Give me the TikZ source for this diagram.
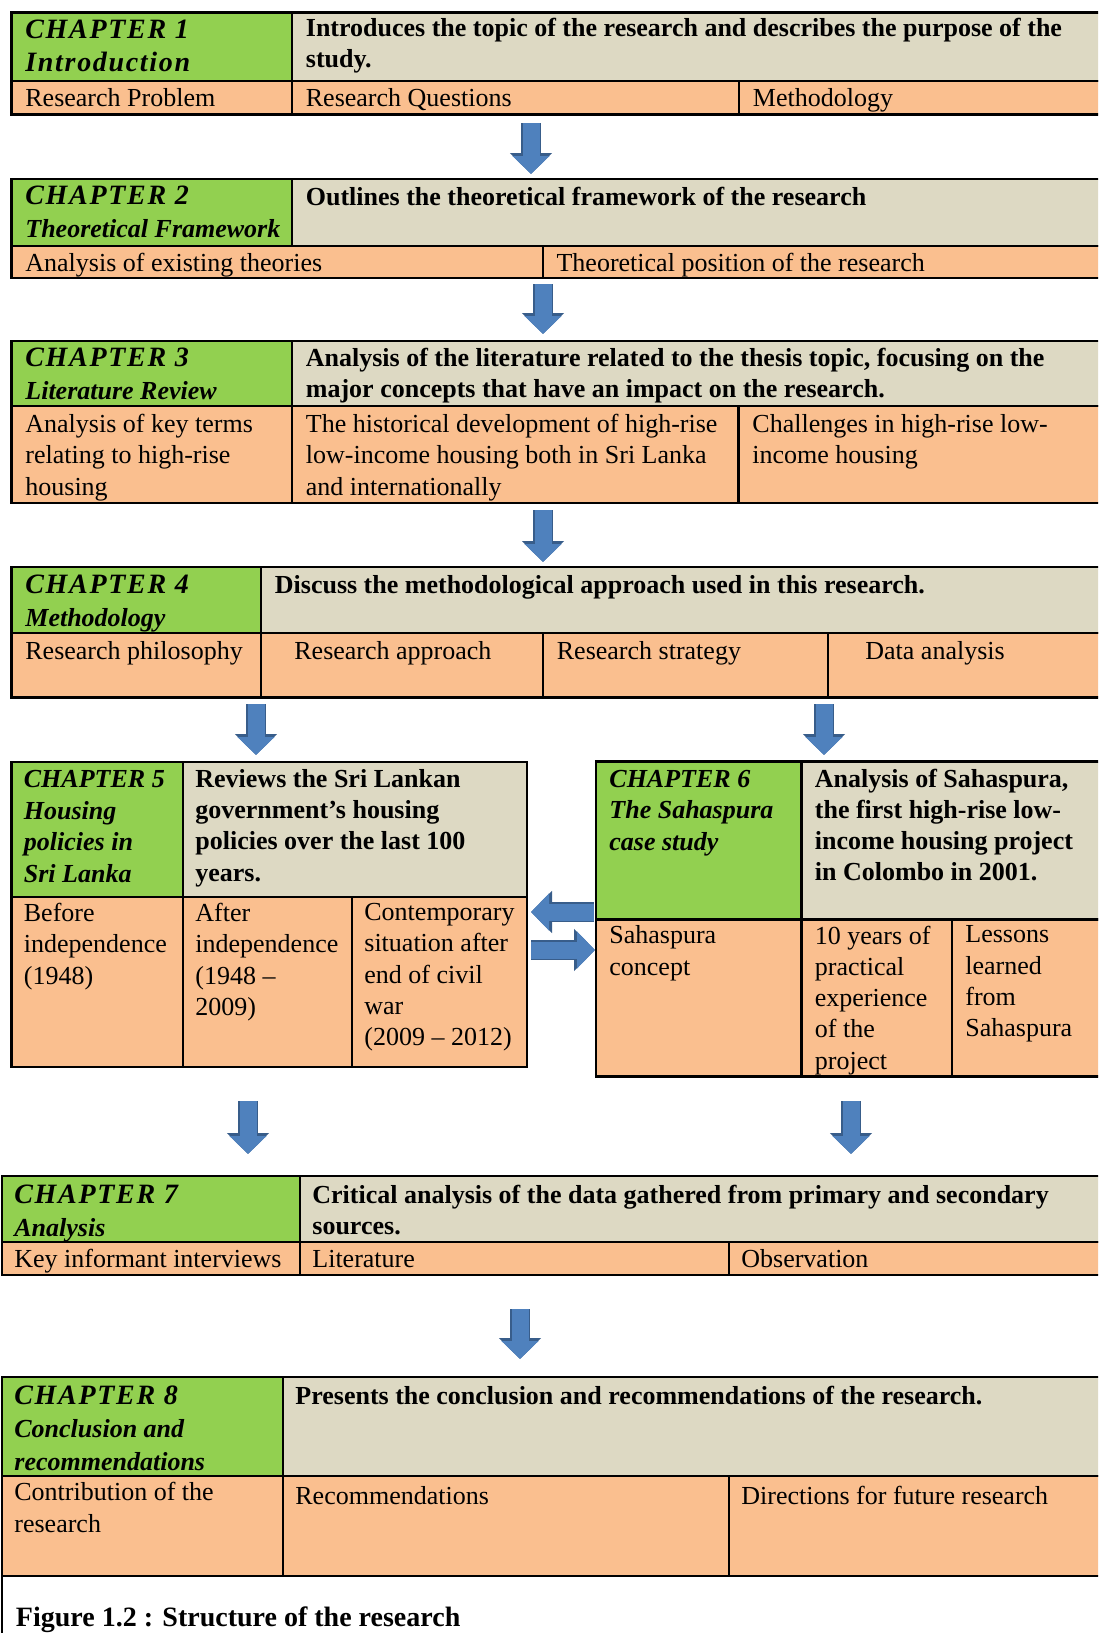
\documentclass[tikz,border=0pt]{standalone}
\usepackage{fontspec}
\setmainfont{Liberation Serif}
\newfontfamily\spacedserif[LetterSpace=6]{Liberation Serif}
\usetikzlibrary{positioning,arrows.meta}

\definecolor{chapgreen}{HTML}{92D050}
\definecolor{descgray}{HTML}{DDD9C3}
\definecolor{roworange}{HTML}{FABF8F}
\definecolor{arrowblue}{HTML}{4F81BD}
\definecolor{arrowedge}{HTML}{385D8A}

\newcommand{\bodysize}{\fontsize{13}{15.6}\selectfont}
\newcommand{\chapno}[1]{{\spacedserif\fontsize{14}{16.5}\selectfont #1}}

\begin{document}
\begin{tikzpicture}[x=1pt,y=-1pt,
  cell/.style ={draw, line width=1.1pt, inner sep=0pt, outer sep=0pt, anchor=north west},
  chapbox/.style ={cell, fill=chapgreen},
  descbox/.style ={cell, fill=descgray},
  itembox/.style ={cell, fill=roworange},
  celltext/.style ={inner sep=0pt, align=left, font=\bodysize, execute at begin node=\strut},
  chaptext/.style ={celltext, font=\fontsize{13}{16.5}\selectfont\bfseries\itshape},
  desctext/.style ={celltext, font=\bodysize\bfseries},
  blockarrow/.style ={draw=arrowblue, line width=8.5pt, -{Triangle[width=18pt,length=9pt]},
    preaction={draw=arrowedge, line width=10pt, -{Triangle[width=20.5pt,length=10.5pt]}}}]
 \useasboundingbox (0,0) rectangle (549,816.5);
 \clip (0,0) rectangle (549,816.5);

 % chapter 1
 \node[chapbox, minimum width=140.25pt, minimum height=34.25pt] (c1a) at (5.75,6.25) {};
 \node[descbox, minimum width=409pt, minimum height=34.25pt] (c1b) at (146,6.25) {};
 \node[itembox, minimum width=140.25pt, minimum height=16.75pt] (c1c) at (5.75,40.5) {};
 \node[itembox, minimum width=223.5pt, minimum height=16.75pt] (c1d) at (146,40.5) {};
 \node[itembox, minimum width=185.5pt, minimum height=16.75pt] (c1e) at (369.5,40.5) {};
 \node[chaptext, below right=3.5pt and 6.75pt of c1a.north west] (t1a) {\chapno{CHAPTER 1}\\\chapno{Introduction}};
 \node[desctext, below right=2.5pt and 6.75pt of c1b.north west] (t1b) {Introduces the topic of the research and describes the purpose of the\\study.};
 \node[celltext, below right=1.5pt and 6.75pt of c1c.north west] (t1c) {Research Problem};
 \node[celltext, below right=1.5pt and 6.75pt of c1d.north west] (t1d) {Research Questions};
 \node[celltext, below right=1.5pt and 6.75pt of c1e.north west] (t1e) {Methodology};

 % chapter 2
 \node[chapbox, minimum width=140.25pt, minimum height=33.5pt] (c2a) at (5.75,89.5) {};
 \node[descbox, minimum width=409pt, minimum height=33.5pt] (c2b) at (146,89.5) {};
 \node[itembox, minimum width=265.6pt, minimum height=16pt] (c2c) at (5.75,123) {};
 \node[itembox, minimum width=283.65pt, minimum height=16pt] (c2d) at (271.35,123) {};
 \node[chaptext, below right=3.5pt and 6.75pt of c2a.north west] (t2a) {\chapno{CHAPTER 2}\\Theoretical Framework};
 \node[desctext, below right=2pt and 6.75pt of c2b.north west] (t2b) {Outlines the theoretical framework of the research};
 \node[celltext, below right=1.5pt and 6.75pt of c2c.north west] (t2c) {Analysis of existing theories};
 \node[celltext, below right=1.5pt and 6.75pt of c2d.north west] (t2d) {Theoretical position of the research};

 % chapter 3
 \node[chapbox, minimum width=140.25pt, minimum height=32.7pt] (c3a) at (5.75,170.3) {};
 \node[descbox, minimum width=409pt, minimum height=32.7pt] (c3b) at (146,170.3) {};
 \node[itembox, minimum width=140.25pt, minimum height=48.5pt] (c3c) at (5.75,203) {};
 \node[itembox, minimum width=223.25pt, minimum height=48.5pt] (c3d) at (146,203) {};
 \node[itembox, minimum width=185.75pt, minimum height=48.5pt] (c3e) at (369.25,203) {};
 \node[chaptext, below right=3.5pt and 6.75pt of c3a.north west] (t3a) {\chapno{CHAPTER 3}\\Literature Review};
 \node[desctext, below right=3.5pt and 6.75pt of c3b.north west] (t3b) {Analysis of the literature related to the thesis topic, focusing on the\\major concepts that have an impact on the research.};
 \node[celltext, below right=4pt and 6.75pt of c3c.north west] (t3c) {Analysis of key terms\\relating to high-rise\\housing};
 \node[celltext, below right=4pt and 6.75pt of c3d.north west] (t3d) {The historical development of high-rise\\low-income housing both in Sri Lanka\\and internationally};
 \node[celltext, below right=4pt and 6.75pt of c3e.north west] (t3e) {Challenges in high-rise low-\\income housing};

 % chapter 4
 \node[chapbox, minimum width=124.75pt, minimum height=33pt] (c4a) at (5.75,283.5) {};
 \node[descbox, minimum width=424.5pt, minimum height=33pt] (c4b) at (130.5,283.5) {};
 \node[itembox, minimum width=124.75pt, minimum height=32.25pt] (c4c) at (5.75,316.5) {};
 \node[itembox, minimum width=141pt, minimum height=32.25pt] (c4d) at (130.5,316.5) {};
 \node[itembox, minimum width=142.5pt, minimum height=32.25pt] (c4e) at (271.5,316.5) {};
 \node[itembox, minimum width=141pt, minimum height=32.25pt] (c4f) at (414,316.5) {};
 \node[chaptext, below right=4pt and 6.75pt of c4a.north west] (t4a) {\chapno{CHAPTER 4}\\Methodology};
 \node[desctext, below right=2pt and 6.75pt of c4b.north west] (t4b) {Discuss the methodological approach used in this research.};
 \node[celltext, below right=2pt and 6.75pt of c4c.north west] (t4c) {Research philosophy};
 \node[celltext, below right=2pt and 16.5pt of c4d.north west] (t4d) {Research approach};
 \node[celltext, below right=2pt and 6.75pt of c4e.north west] (t4e) {Research strategy};
 \node[celltext, below right=2pt and 18.5pt of c4f.north west] (t4f) {Data analysis};

 % chapter 5
 \node[chapbox, minimum width=85.75pt, minimum height=67.5pt] (c5a) at (5.75,381) {};
 \node[descbox, minimum width=172pt, minimum height=67.5pt] (c5b) at (91.5,381) {};
 \node[itembox, minimum width=85.75pt, minimum height=85pt] (c5c) at (5.75,448.5) {};
 \node[itembox, minimum width=84.5pt, minimum height=85pt] (c5d) at (91.5,448.5) {};
 \node[itembox, minimum width=87.5pt, minimum height=85pt] (c5e) at (176,448.5) {};
 \node[chaptext, below right=4pt and 6pt of c5a.north west, font=\fontsize{13}{15.8}\selectfont\bfseries\itshape] (t5a) {CHAPTER 5\\Housing\\policies in\\Sri Lanka};
 \node[desctext, below right=3.5pt and 6pt of c5b.north west] (t5b) {Reviews the Sri Lankan\\government’s housing\\policies over the last 100\\years.};
 \node[celltext, below right=3pt and 6pt of c5c.north west] (t5c) {Before\\independence\\(1948)};
 \node[celltext, below right=3pt and 6pt of c5d.north west] (t5d) {After\\independence\\(1948 –\\2009)};
 \node[celltext, below right=3pt and 6pt of c5e.north west] (t5e) {Contemporary\\situation after\\end of civil\\war\\(2009 – 2012)};

 % chapter 6
 \node[chapbox, minimum width=102.75pt, minimum height=79pt] (c6a) at (298,380.75) {};
 \node[descbox, minimum width=154.25pt, minimum height=79pt] (c6b) at (400.75,380.75) {};
 \node[itembox, minimum width=102.75pt, minimum height=78.5pt] (c6c) at (298,459.75) {};
 \node[itembox, minimum width=75.25pt, minimum height=78.5pt] (c6d) at (400.75,459.75) {};
 \node[itembox, minimum width=79pt, minimum height=78.5pt] (c6e) at (476,459.75) {};
 \node[chaptext, below right=4pt and 6.5pt of c6a.north west, font=\fontsize{13}{15.8}\selectfont\bfseries\itshape] (t6a) {CHAPTER 6\\The Sahaspura\\case study};
 \node[desctext, below right=3.5pt and 6.5pt of c6b.north west] (t6b) {Analysis of Sahaspura,\\the first high-rise low-\\income housing project\\in Colombo in 2001.};
 \node[celltext, below right=3pt and 6.5pt of c6c.north west] (t6c) {Sahaspura\\concept};
 \node[celltext, below right=3pt and 6.5pt of c6d.north west] (t6d) {10 years of\\practical\\experience\\of the\\project};
 \node[celltext, below right=3pt and 6.5pt of c6e.north west] (t6e) {Lessons\\learned\\from\\Sahaspura};

 % chapter 7
 \node[chapbox, minimum width=149pt, minimum height=33pt] (c7a) at (1,588) {};
 \node[descbox, minimum width=405pt, minimum height=33pt] (c7b) at (150,588) {};
 \node[itembox, minimum width=149pt, minimum height=16.5pt] (c7c) at (1,621) {};
 \node[itembox, minimum width=214.5pt, minimum height=16.5pt] (c7d) at (150,621) {};
 \node[itembox, minimum width=190.5pt, minimum height=16.5pt] (c7e) at (364.5,621) {};
 \node[chaptext, below right=4.5pt and 6pt of c7a.north west] (t7a) {\chapno{CHAPTER 7}\\Analysis};
 \node[desctext, below right=4.5pt and 6pt of c7b.north west] (t7b) {Critical analysis of the data gathered from primary and secondary\\sources.};
 \node[celltext, below right=1.5pt and 6pt of c7c.north west] (t7c) {Key informant interviews};
 \node[celltext, below right=1.5pt and 6pt of c7d.north west] (t7d) {Literature};
 \node[celltext, below right=1.5pt and 6pt of c7e.north west] (t7e) {Observation};

 % chapter 8
 \node[chapbox, minimum width=140.5pt, minimum height=49.5pt] (c8a) at (1,688.5) {};
 \node[descbox, minimum width=413.5pt, minimum height=49.5pt] (c8b) at (141.5,688.5) {};
 \node[itembox, minimum width=140.5pt, minimum height=50pt] (c8c) at (1,738) {};
 \node[itembox, minimum width=223pt, minimum height=50pt] (c8d) at (141.5,738) {};
 \node[itembox, minimum width=190.5pt, minimum height=50pt] (c8e) at (364.5,738) {};
 \node[chaptext, below right=4pt and 6pt of c8a.north west] (t8a) {\chapno{CHAPTER 8}\\Conclusion and\\recommendations};
 \node[desctext, below right=2.5pt and 6pt of c8b.north west] (t8b) {Presents the conclusion and recommendations of the research.};
 \node[celltext, below right=3pt and 6pt of c8c.north west, font=\fontsize{13}{16.1}\selectfont] (t8c) {Contribution of the\\research};
 \node[celltext, below right=3pt and 6pt of c8d.north west] (t8d) {Recommendations};
 \node[celltext, below right=3pt and 6pt of c8e.north west] (t8e) {Directions for future research};

 % frame and caption
 \coordinate (framebot) at (1,816.5);
 \draw[line width=1.1pt] (c8c.south west) -- (framebot);
 \node[inner sep=0pt, anchor=base west, font=\fontsize{14}{16}\selectfont\bfseries] (cap) at (7.8,813) {Figure 1.2 : Structure of the research};

 % arrows
 \coordinate (a1s) at (265.5,61.5);   \coordinate (a1e) at (265.5,87);
 \coordinate (a2s) at (271.5,142);    \coordinate (a2e) at (271.5,167);
 \coordinate (a3s) at (271.5,255);    \coordinate (a3e) at (271.5,281);
 \coordinate (a4s) at (128,352);      \coordinate (a4e) at (128,377.5);
 \coordinate (a5s) at (412,352);      \coordinate (a5e) at (412,377.5);
 \coordinate (a6s) at (297,456);      \coordinate (a6e) at (265.5,456);
 \coordinate (a7s) at (265.5,475);    \coordinate (a7e) at (297.5,475);
 \coordinate (a8s) at (124,550.5);    \coordinate (a8e) at (124,577);
 \coordinate (a9s) at (425.5,550.5);  \coordinate (a9e) at (425.5,577);
 \coordinate (a10s) at (260,654.5);   \coordinate (a10e) at (260,679.5);
 \foreach \s/\e in {a1s/a1e, a2s/a2e, a3s/a3e, a4s/a4e, a5s/a5e, a6s/a6e,
                    a7s/a7e, a8s/a8e, a9s/a9e, a10s/a10e}
   \draw[blockarrow] (\s) -- (\e);
\end{tikzpicture}
\end{document}
